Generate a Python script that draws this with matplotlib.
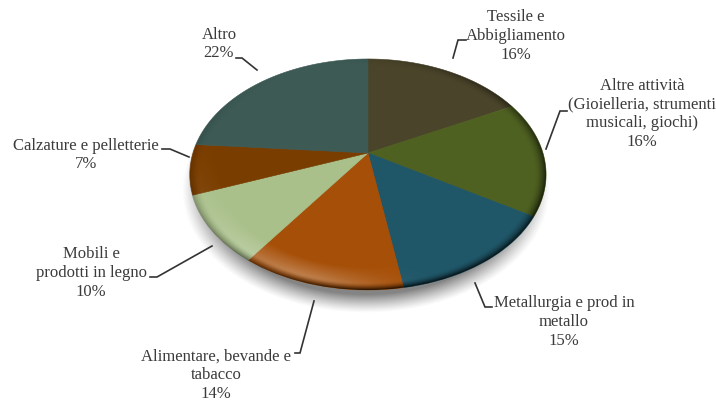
import numpy as np
import matplotlib
matplotlib.use("Agg")
import matplotlib.pyplot as plt
from matplotlib.patches import Polygon, Ellipse
from matplotlib.transforms import Affine2D

plt.rcParams['font.family'] = ['Liberation Serif', 'DejaVu Serif']

# dati
settori = ["Tessile e\nAbbigliamento", "Altre attività\n(Gioielleria, strumenti\nmusicali, giochi)",
           "Metallurgia e prod in\nmetallo", "Alimentare, bevande e\ntabacco",
           "Mobili e\nprodotti in legno", "Calzature e pelletterie", "Altro"]
quote = [16, 16, 15, 14, 10, 7, 22]
colori = ["#4A442A", "#4F6121", "#1F5668", "#A64F08", "#A9C08A", "#7A3D00", "#3D5A55"]

# posizione delle etichette e linee guida (pixel)
pos_etichette = [(516, 36), (642, 114), (564, 322), (216, 375), (91, 273), (86, 155), (219, 44)]
guide = [[(453, 58), (458, 40), (466, 40)],
         [(546, 149), (560, 111), (567, 111)],
         [(475, 283), (485, 307), (492, 307)],
         [(314, 301), (300, 353), (295, 353)],
         [(212, 246), (157, 277), (150, 277)],
         [(189, 157), (170, 149), (162, 149)],
         [(257, 70), (242, 58), (236, 58)]]

W, H = 716, 401
cx, cy = 368, 153      # vertice delle fette
a, b, k = 175, 111.5, 0.186   # prospettiva
torsione = np.radians(6.5)


def prospettiva(xy):
    # cerchio unitario -> disco in prospettiva, raggi spostati verso il basso
    r = np.hypot(xy[:, 0], xy[:, 1])
    th = np.arctan2(xy[:, 0], xy[:, 1])      # angolo dall'alto, orario
    th = th + torsione * np.sin(th)
    xs, ys = r * np.sin(th), -r * np.cos(th)
    w = 1 - k * ys
    return np.column_stack((cx + a * xs / w, cy + b * ys / w))


def velo(grigio, alfa):
    img = np.zeros((H, W, 4))
    img[..., :3] = grigio
    img[..., 3] = alfa
    return ax.imshow(img, extent=(0, W, H, 0), aspect='auto', interpolation='bilinear')


fig = plt.figure(figsize=(W / 100, H / 100), dpi=100)
ax = fig.add_axes([0, 0, 1, 1])

wedges, _ = ax.pie(quote, startangle=90, counterclock=False, radius=1, center=(0, 0))
scala = Affine2D().scale(1000)
fette = []
for w_ in wedges:
    path = (w_.get_patch_transform() + scala).transform_path(w_.get_path())
    fette.append(path.to_polygons(closed_only=False)[0] / 1000)
    w_.remove()

ax.set_aspect('auto')
ax.axis('off')

Y, X = np.mgrid[0:H, 0:W] + 0.5

# ombra sotto il disco
ds = np.hypot((X - 366) / 184, (Y - 190) / 123)
velo(0.40, np.clip((1.0 - ds) / 0.15, 0, 1) ** 1.2 * 0.8).set_zorder(1)

for pp, col in zip(fette, colori):
    ax.add_patch(Polygon(prospettiva(pp), closed=True, fc=col, ec=col, lw=0.4, zorder=2))

# smussatura: riflesso chiaro davanti a sinistra, bordo scuro
ex, ey = 367.5, 174.5
d = np.hypot((X - ex) / 178.5, (Y - ey) / 115.5)
ang = np.arctan2(Y - ey, X - ex)
chiaro = np.clip((d - 0.80) / 0.14, 0, 1) * np.clip((1.0 - d) / 0.05, 0, 1)
chiaro = chiaro * np.clip(np.cos(ang - np.radians(125)), 0, 1) ** 4 * 0.27
scuro = np.clip((d - 0.93) / 0.07, 0, 1) ** 2
scuro = scuro * (0.5 + 0.5 * np.cos(ang - np.radians(60)))

disco = Ellipse((ex, ey), 357, 231, fc='none', ec='none')
ax.add_patch(disco)
for img in (velo(1.0, chiaro), velo(0.0, scuro * 0.85)):
    img.set_zorder(3)
    img.set_clip_path(disco)

ax.set_xlim(0, W)
ax.set_ylim(H, 0)

for nome, q, p, g in zip(settori, quote, pos_etichette, guide):
    ax.text(p[0], p[1], f"{nome}\n{q}%", ha='center', va='center', fontsize=12,
            color='#3B3B3B', linespacing=1.22, zorder=5)
    g = np.array(g)
    ax.plot(g[:, 0], g[:, 1], color='#333333', lw=1.2, zorder=4, solid_joinstyle='miter')

fig.savefig("out.png", dpi=100)
